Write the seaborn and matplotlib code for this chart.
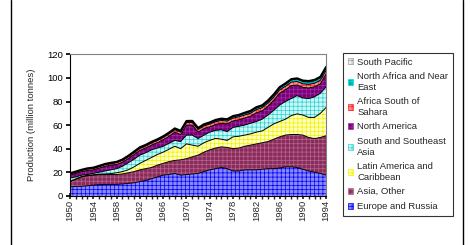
import numpy as np
import seaborn as sns
import matplotlib.pyplot as plt
from matplotlib.patches import Patch
from matplotlib.lines import Line2D

years = list(range(1950, 1995))

# top edge of each stacked region (million tonnes)
europe_top = [7.5, 8, 8, 8.5, 9, 9.5, 9.6, 9.6, 9.6, 10,
              10.5, 11, 12, 13, 14.5, 16, 17.5, 18, 19, 17.5,
              18, 18.5, 19, 20.5, 22, 23, 24, 23, 21, 21,
              22, 22, 22, 22.5, 23, 23, 23.5, 24.5, 24.5, 24,
              22.5, 21, 20, 19, 17.5]
asia_other_top = [12, 14, 16, 17, 17.5, 18, 18, 18, 18, 18.5,
                  19.5, 20.5, 22, 23, 24, 26, 27.5, 29, 30, 30.5,
                  31.5, 33, 34.5, 37, 39, 40.5, 41.5, 41, 40, 40.5,
                  42, 43, 44, 45, 46, 48, 50, 51.5, 52, 52,
                  51.5, 49.5, 48.5, 49.5, 51]
latin_top = [12.3, 14.3, 16.3, 17.3, 17.8, 18.3, 18.5, 18.8, 19.5, 20.5,
             22, 24.5, 27.5, 30, 32.5, 35, 37, 39.5, 42, 40,
             44, 43, 42, 45, 47, 48.7, 48, 47, 50, 50.5,
             51.5, 52.5, 54, 55, 58, 61, 63, 65, 68, 69.5,
             68.5, 66.5, 66.5, 70, 75]
s_se_asia_top = [15, 16, 17.5, 18, 19, 20, 21, 22, 23, 25,
                 28, 31, 34.5, 36.5, 39, 40.5, 42, 44.5, 47, 46,
                 51.5, 51.5, 48.5, 51.5, 54, 55.5, 56, 54.5, 58, 59,
                 60, 61.5, 63, 65, 68.5, 72.5, 77, 80, 82.5, 85,
                 83, 82.5, 84, 87, 92.5]
n_america_top = [17.5, 19, 20.5, 21.5, 22, 23.5, 25, 26, 26.5, 28.5,
                 31.5, 35, 38.5, 40.5, 43, 45, 47.5, 50.5, 54, 52,
                 60, 60, 54, 57, 58.5, 60.5, 61.5, 61, 63.5, 64.5,
                 66, 67.5, 70.5, 72, 76, 81, 87, 90, 93.5, 94,
                 92, 91.5, 92.5, 95, 103.5]
# thin layers on top, as region values
africa_ss = [1.0, 1.0, 1.0, 1.2, 1.2, 1.2, 1.3, 1.3, 1.5, 1.5,
             1.5, 1.6, 1.7, 1.7, 1.8, 1.8, 1.9, 2.0, 2.0, 2.0,
             2.2, 2.2, 2.2, 2.3, 2.3, 2.4, 2.4, 2.4, 2.5, 2.5,
             2.5, 2.6, 2.6, 2.7, 2.7, 2.8, 2.8, 2.9, 2.9, 3.0,
             3.0, 3.0, 3.0, 3.0, 3.0]
n_africa = [0.3, 0.3, 0.3, 0.3, 0.4, 0.4, 0.4, 0.4, 0.5, 0.5,
            0.5, 0.5, 0.6, 0.6, 0.6, 0.7, 0.7, 0.7, 0.8, 0.8,
            0.8, 0.9, 0.9, 0.9, 1.0, 1.0, 1.1, 1.1, 1.2, 1.2,
            1.3, 1.3, 1.4, 1.4, 1.5, 1.6, 1.7, 1.8, 1.9, 2.0,
            2.0, 2.1, 2.1, 2.2, 2.2]
s_pacific = [0.3] * 10 + [0.4] * 10 + [0.5] * 10 + [0.7] * 10 + [0.8] * 5

labels = ['Europe and Russia', 'Asia, Other', 'Latin America and\nCaribbean',
          'South and Southeast\nAsia', 'North America', 'Africa South of\nSahara',
          'North Africa and Near\nEast', 'South Pacific']
colors = ['#8888ff', '#8c2a5a', '#ffffc0', '#c8f8f8', '#7a007a', '#ff9090', '#00a8a8', '#f0f0f0']
hatch_colors = ['#0000ee', '#b06890', '#f0f000', '#30d0d0', '#a030a0', '#ff2020', '#00e0e0', '#a0a0a0']

tops = np.array([europe_top, asia_other_top, latin_top, s_se_asia_top, n_america_top])
layers = np.vstack([tops[0], np.diff(tops, axis=0), africa_ss, n_africa, s_pacific])

sns.set_theme(style='white')
plt.rcParams['font.family'] = ['Liberation Sans', 'DejaVu Sans']
plt.rcParams['hatch.linewidth'] = 0.5

fig = plt.figure(figsize=(4.7, 2.45), dpi=100)
ax = fig.add_axes([0.149, 0.201, 0.545, 0.577])

polys = ax.stackplot(years, layers, colors=colors, linewidth=0)
for p, hc in zip(polys, hatch_colors):
    p.set_hatch('++++')
    p.set_edgecolor(hc)
    p.set_linewidth(0)
for i, top in enumerate(np.cumsum(layers, axis=0)):
    ax.plot(years, top, color='black', linewidth=1.5 if i == len(layers) - 1 else 0.7)

ax.set_xlim(1950, 1994)
ax.set_ylim(0, 120)
ax.set_yticks(range(0, 121, 20))
ax.set_xticks(range(1950, 1995, 4))
ax.set_xticks(years, minor=True)
ax.set_xticklabels([str(y) for y in range(1950, 1995, 4)], rotation=90, fontsize=6.8)
ax.tick_params(axis='y', labelsize=6.8, length=3, direction='out', left=True, pad=2, colors='black')
ax.tick_params(axis='x', which='both', length=4, direction='inout', bottom=True, pad=1)
ax.set_ylabel('Production (million tonnes)', fontsize=6.8, labelpad=8)
for s in ['top', 'right']:
    ax.spines[s].set_color('#808080')
for s in ['left', 'bottom']:
    ax.spines[s].set_color('black')
for s in ax.spines.values():
    s.set_linewidth(0.8)

handles = [Patch(facecolor=c, edgecolor=hc, hatch='++++', linewidth=0.5)
           for c, hc in zip(colors, hatch_colors)]
leg = fig.legend(handles[::-1], labels[::-1], loc='upper left', bbox_to_anchor=(0.730, 0.784),
                 fontsize=6.8, frameon=True, fancybox=False, edgecolor='black',
                 handlelength=0.6, handleheight=0.6, handletextpad=0.4, labelspacing=0.6,
                 borderpad=0.5, borderaxespad=0)
leg.get_frame().set_linewidth(0.8)

fig.add_artist(Line2D([11 / 470, 11 / 470], [0, 1], color='black', linewidth=1))
fig.add_artist(Line2D([463 / 470, 463 / 470], [0, 1], color='black', linewidth=1))

fig.savefig('out.png', dpi=100)
